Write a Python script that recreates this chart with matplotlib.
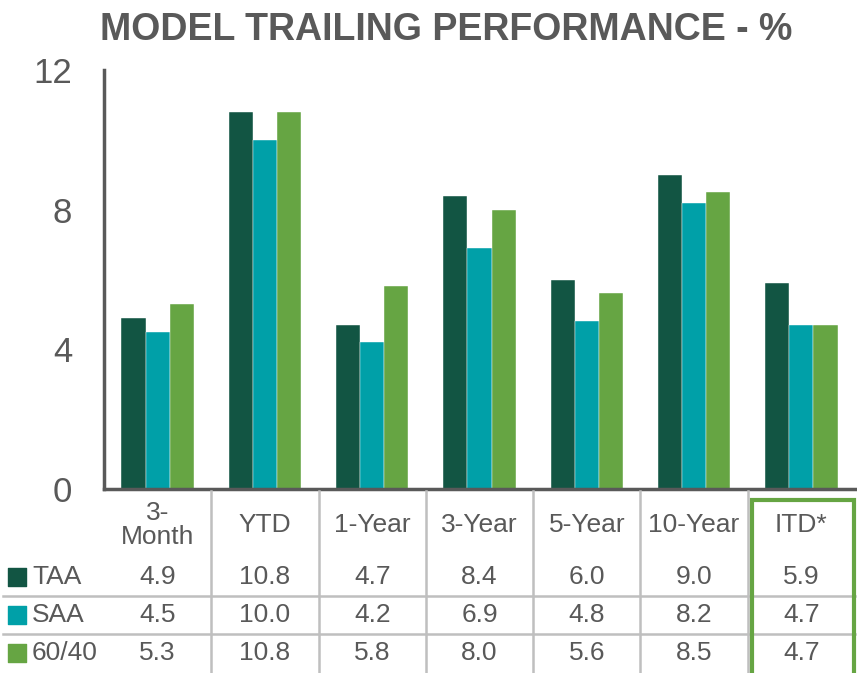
import matplotlib
matplotlib.use('Agg')
import matplotlib.pyplot as plt
import numpy as np

plt.rcParams['font.family'] = ['Liberation Sans', 'DejaVu Sans']

categories = ['3-\nMonth', 'YTD', '1-Year', '3-Year', '5-Year', '10-Year', 'ITD*']
series = ['TAA', 'SAA', '60/40']
taa = [4.9, 10.8, 4.7, 8.4, 6.0, 9.0, 5.9]
saa = [4.5, 10.0, 4.2, 6.9, 4.8, 8.2, 4.7]
sixty_forty = [5.3, 10.8, 5.8, 8.0, 5.6, 8.5, 4.7]
colors = ['#125543', '#00A0A8', '#66A543']
text_gray = '#595959'
grid_gray = '#BFBFBF'

W, H = 857, 673
fig = plt.figure(figsize=(W / 100, H / 100), dpi=100)

# main chart axes (pixel layout from the reference)
ax_l, ax_r, ax_top, ax_bot = 104, 855, 70, 489
ax = fig.add_axes([ax_l / W, 1 - ax_bot / H, (ax_r - ax_l) / W, (ax_bot - ax_top) / H])

x = np.arange(len(categories))
width = 0.225
values = [taa, saa, sixty_forty]
for i, vals in enumerate(values):
    ax.bar(x + (i - 1) * width, vals, width, color=colors[i], edgecolor='white', linewidth=0.3)

ax.set_xlim(-0.5, len(categories) - 0.5)
ax.set_ylim(0, 12)
ax.set_yticks([0, 4, 8, 12])
ax.set_xticks([])
ax.tick_params(axis='y', length=0, pad=23, labelsize=25, labelcolor=text_gray)
for s in ['top', 'right']:
    ax.spines[s].set_visible(False)
for s in ['left', 'bottom']:
    ax.spines[s].set_color(text_gray)
    ax.spines[s].set_linewidth(2.5)

fig.text(446 / W, 1 - 30 / H, 'MODEL TRAILING PERFORMANCE - %', ha='center', va='center',
         fontsize=27, fontweight='bold', color=text_gray)

# data table below the chart, shares the category scale
ppu = (ax_r - ax_l) / len(categories)
tab = fig.add_axes([0, 0, 1, (H - ax_bot) / H])
tab.set_xlim(-0.5 - ax_l / ppu, len(categories) - 0.5 + (W - ax_r) / ppu)
tab.set_ylim(H - ax_bot, 0)
tab.axis('off')

fs = 19
for i, c in enumerate(categories):
    tab.text(i, 36, c, ha='center', va='center', fontsize=fs, color=text_gray, linespacing=1.0)

row_y = [88, 126, 164]
for r, name in enumerate(series):
    tab.text(-0.5 - (ax_l - 32) / ppu, row_y[r], name, ha='left', va='center', fontsize=fs, color=text_gray)
    tab.scatter(-0.5 - (ax_l - 17) / ppu, row_y[r], marker='s', s=150, color=colors[r])
    for i in range(len(categories)):
        tab.text(i, row_y[r], f'{values[r][i]:.1f}', ha='center', va='center', fontsize=fs, color=text_gray)

# row separators
for yy in [107, 145]:
    tab.plot([-0.5 - (ax_l - 3) / ppu, len(categories) - 0.5], [yy, yy], color=grid_gray, lw=1.8)
# column separators
for i in range(len(categories) - 1):
    tab.plot([i + 0.5, i + 0.5], [2, H - ax_bot], color=grid_gray, lw=1.8)

# highlight ITD* column
hx0 = len(categories) - 1 - 0.5 + 4 / ppu
hx1 = len(categories) - 0.5 - 1 / ppu
tab.plot([hx0, hx0, hx1, hx1], [H - ax_bot, 11, 11, H - ax_bot], color='#66A543', lw=3.0,
         solid_joinstyle='miter')

fig.savefig('out.png', dpi=100)
